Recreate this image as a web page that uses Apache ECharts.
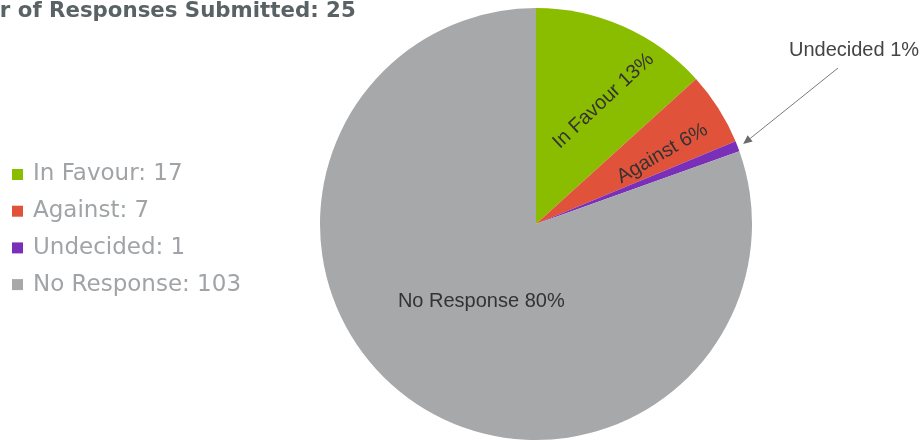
<!DOCTYPE html>
<html>
<head>
<meta charset="utf-8">
<script src="https://cdn.jsdelivr.net/npm/echarts@6/dist/echarts.min.js"></script>
<style>html,body{margin:0;padding:0;background:#fff;}#c{width:922px;height:441px;}</style>
</head>
<body>
<div id="c"></div>
<script>
// ---- data ----
const categories = ['In Favour', 'Against', 'Undecided', 'No Response'];
const values = [17, 7, 1, 103];
const pctLabels = [13, 6, 1, 80];
const titleText = 'Number of Responses Submitted: 25';

// ---- styles / layout ----
const colors = ['#8ABC00', '#E0533A', '#7A2FB8', '#A6A8AA'];
const CX = 536, CY = 224, R = 216;
// per-slice label placement: fraction of radius, angular shift (deg), rotation (deg)
const labelPlace = [
  { dist: 0.65, shift: 4.8, rotate: 43 },
  { dist: 0.67, shift: 3.2, rotate: 30 },
  null,
  { dist: 0.44, shift: 0, rotate: 0 }
];
const outsideLabelPos = { x: 854, y: 50, lineStart: [838, 68], edgeGap: 6 };

const total = values.reduce((a, b) => a + b, 0);
const midAngles = [];
(function () {
  let acc = 0;
  values.forEach(v => { midAngles.push((acc + v / 2) / total * 360); acc += v; });
})();
function polar(angleDeg, r) {
  const a = angleDeg * Math.PI / 180;
  return [CX + r * Math.sin(a), CY - r * Math.cos(a)];
}

const undecidedIdx = 2;
const tip = polar(midAngles[undecidedIdx], R + outsideLabelPos.edgeGap);
const st = outsideLabelPos.lineStart;
const ang = Math.atan2(tip[1] - st[1], tip[0] - st[0]);
const AL = 9, AW = 4;
const base = [tip[0] - AL * Math.cos(ang), tip[1] - AL * Math.sin(ang)];
const arrowPts = [
  tip,
  [base[0] + AW * Math.sin(ang), base[1] - AW * Math.cos(ang)],
  [base[0] - AW * Math.sin(ang), base[1] + AW * Math.cos(ang)]
];

const chart = echarts.init(document.getElementById('c'));
chart.setOption({
  animation: false,
  color: colors,
  title: {
    text: titleText,
    left: -85,
    top: 1,
    padding: 0,
    textStyle: { fontFamily: 'DejaVu Sans', fontWeight: 'bold', fontSize: 21.3, color: '#596264' }
  },
  legend: {
    orient: 'vertical',
    left: 7,
    top: 158,
    icon: 'rect',
    itemWidth: 11,
    itemHeight: 11,
    itemGap: 13.7,
    selectedMode: false,
    data: categories,
    formatter: function (name) {
      const i = categories.indexOf(name);
      return name + ': ' + values[i];
    },
    textStyle: { fontFamily: 'DejaVu Sans', fontSize: 23, color: '#A0A4A6', padding: [0, 0, 0, 5] }
  },
  graphic: [{
    type: 'polygon',
    shape: { points: arrowPts },
    style: { fill: '#6b6b6b' },
    z: 100
  }],
  series: [{
    type: 'pie',
    center: [CX, CY],
    radius: [0, R],
    startAngle: 90,
    clockwise: true,
    avoidLabelOverlap: false,
    emphasis: { disabled: true },
    itemStyle: { borderWidth: 0 },
    label: {
      show: true,
      position: 'inside',
      fontFamily: 'Liberation Sans',
      fontSize: 20,
      color: '#333333',
      formatter: function (p) { return p.name + ' ' + pctLabels[p.dataIndex] + '%'; }
    },
    labelLine: { show: false },
    data: categories.map((c, i) => {
      const d = { name: c, value: values[i] };
      if (i === undecidedIdx) {
        d.label = { position: 'outside', color: '#444444' };
        d.labelLine = { show: true, lineStyle: { color: '#7a7a7a', width: 1 } };
      }
      return d;
    }),
    labelLayout: function (params) {
      const i = params.dataIndex;
      if (i === undecidedIdx) {
        return {
          x: outsideLabelPos.x, y: outsideLabelPos.y,
          align: 'center', verticalAlign: 'middle',
          labelLinePoints: [st, base, base]
        };
      }
      const pl = labelPlace[i];
      const p = polar(midAngles[i] + pl.shift, R * pl.dist);
      return { x: p[0], y: p[1], rotate: pl.rotate, align: 'center', verticalAlign: 'middle' };
    }
  }]
});
</script>
</body>
</html>
